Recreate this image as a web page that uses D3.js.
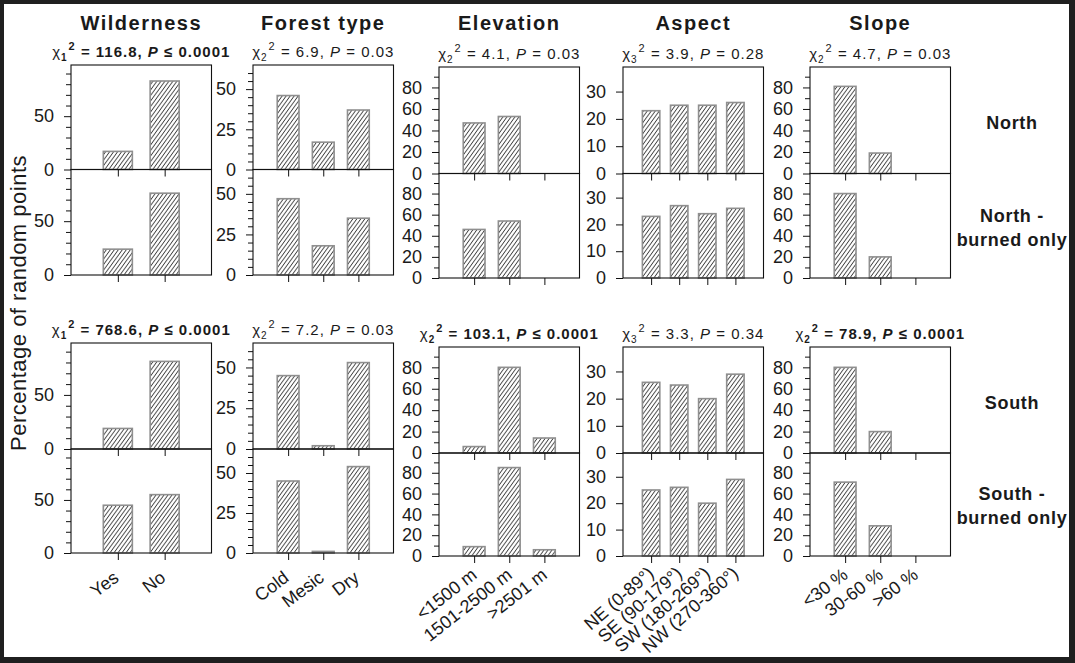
<!DOCTYPE html>
<html><head><meta charset="utf-8">
<script src="https://cdn.jsdelivr.net/npm/d3@7"></script>
<style>
body{margin:0;background:#fff}
svg{display:block}
text{font-family:"Liberation Sans",Arial,sans-serif;fill:#1a1a1a}
</style>
</head><body>
<svg id="c" width="1075" height="663"></svg>
<script>
// ---------- data ----------
const panelTitles = ["Wilderness", "Forest type", "Elevation", "Aspect", "Slope"];
const wildernessCats = ["Yes", "No"];
const forestCats = ["Cold", "Mesic", "Dry"];
const elevationCats = ["<1500 m", "1501-2500 m", ">2501 m"];
const aspectCats = ["NE (0-89°)", "SE (90-179°)", "SW (180-269°)", "NW (270-360°)"];
const slopeCats = ["<30 %", "30-60 %", ">60 %"];
const categories = [wildernessCats, forestCats, elevationCats, aspectCats, slopeCats];

const rowLabels = [["North"], ["North -", "burned only"], ["South"], ["South -", "burned only"]];

// percentage of random points, per panel column
const northValues       = [[17, 83], [46, 17, 37], [47, 53, 0], [23, 25, 25, 26], [81, 19, 0]];
const northBurnedValues = [[24, 76], [47, 18, 35], [46, 54, 0], [23, 27, 24, 26], [80, 20, 0]];
const southValues       = [[19, 81], [45, 2, 53],  [6, 80, 14], [26, 25, 20, 29], [80, 20, 0]];
const southBurnedValues = [[45, 55], [45, 1, 54],  [9, 85, 6],  [25, 26, 20, 29], [71, 29, 0]];
const rowValues = [northValues, northBurnedValues, southValues, southBurnedValues];

// chi-square statistics (North row, South row)
const statDf   = [[1, 2, 2, 3, 2], [1, 2, 2, 3, 2]];
const statChi  = [["116.8", "6.9", "4.1", "3.9", "4.7"], ["768.6", "7.2", "103.1", "3.3", "78.9"]];
const statP    = [["≤ 0.0001", "= 0.03", "= 0.03", "= 0.28", "= 0.03"],
                  ["≤ 0.0001", "= 0.03", "≤ 0.0001", "= 0.34", "≤ 0.0001"]];
const statBold = [[true, false, false, false, false], [true, false, true, false, true]];

// y axis settings per column
const yMax       = [98, 65, 99, 39, 99];
const yLabelTicks = [[0, 50], [0, 25, 50], [0, 20, 40, 60, 80], [0, 10, 20, 30], [0, 20, 40, 60, 80]];
const yMinorTicks = [[10, 20, 30, 40, 60, 70, 80, 90],
                     [5, 10, 15, 20, 30, 35, 40, 45, 55, 60],
                     [10, 30, 50, 70, 90], [], [10, 30, 50, 70, 90]];
const yTitle = "Percentage of random points";

// ---------- layout ----------
const W = 1075, H = 663;
const colX0 = [71, 253, 439, 623, 810];
const colW = 140.5;
const geoLeft  = {tops: [65, 169.5, 343, 449], bottoms: [169.5, 275, 449, 553]};
const geoRight = {tops: [67, 173.5, 347, 453], bottoms: [173.5, 278, 453, 556]};
const labelAngle = [-37, -37, -38, -41, -37];
const labelDx = [2, 2, 4, 4, 4];
const labelDy = [27, 27, 21, 19, 21];

const svg = d3.select("#c");
svg.append("rect").attr("width", W).attr("height", H).attr("fill", "#1f1f1f");
svg.append("rect").attr("x", 4).attr("y", 4).attr("width", W - 10).attr("height", H - 10).attr("fill", "#fff");

const defs = svg.append("defs");
const pat = defs.append("pattern").attr("id", "hatch").attr("patternUnits", "userSpaceOnUse")
  .attr("width", 4).attr("height", 5.5);
pat.append("rect").attr("width", 4).attr("height", 5.5).attr("fill", "#fff");
pat.append("path").attr("d", "M0,5.5 L4,0 M-1,1.375 L1,-1.375 M3,6.875 L5,4.125")
  .attr("stroke", "#000").attr("stroke-width", 0.8);

function drawStat(x, y, df, chi, p, bold) {
  const t = svg.append("text").attr("x", x).attr("y", y).attr("text-anchor", "middle")
    .style("font-size", "15px").style("letter-spacing", "1px")
    .style("font-weight", bold ? "bold" : "normal");
  t.append("tspan").text("χ").style("font-weight", "normal");
  t.append("tspan").text(df).attr("dy", 4).style("font-size", "10px");
  t.append("tspan").text("2").attr("dy", -11).attr("dx", 1).style("font-size", "11px");
  t.append("tspan").text(" = " + chi + ", ").attr("dy", 7);
  t.append("tspan").text("P").style("font-style", "italic");
  t.append("tspan").text(" " + p);
}

for (let c = 0; c < 5; c++) {
  const x0 = colX0[c], x1 = x0 + colW, cx = (x0 + x1) / 2;
  const geo = c < 2 ? geoLeft : geoRight;
  const xs = d3.scalePoint().domain(categories[c]).range([x0, x1]).padding(1);
  const bw = xs.step() * 0.62;

  svg.append("text").attr("x", cx).attr("y", 30).attr("text-anchor", "middle")
    .style("font-size", "20px").style("font-weight", "bold").style("letter-spacing", "1.5px")
    .text(panelTitles[c]);

  drawStat(cx, geo.tops[0] - 8, statDf[0][c], statChi[0][c], statP[0][c], statBold[0][c]);
  drawStat(cx, geo.tops[2] - 8, statDf[1][c], statChi[1][c], statP[1][c], statBold[1][c]);

  for (let r = 0; r < 4; r++) {
    const top = geo.tops[r], bottom = geo.bottoms[r];
    const y = d3.scaleLinear().domain([0, yMax[c]]).range([bottom, top]);
    const vals = rowValues[r][c];
    const g = svg.append("g");

    g.selectAll("rect.bar").data(categories[c]).join("rect").attr("class", "bar")
      .attr("x", d => xs(d) - bw / 2)
      .attr("y", (d, i) => y(vals[i]))
      .attr("width", bw)
      .attr("height", (d, i) => y(0) - y(vals[i]))
      .attr("fill", "url(#hatch)")
      .attr("stroke", "#8f8f8f").attr("stroke-width", 1.6)
      .style("display", (d, i) => vals[i] > 0 ? null : "none");

    g.append("rect").attr("x", x0).attr("y", top).attr("width", colW).attr("height", bottom - top)
      .attr("fill", "none").attr("stroke", "#111").attr("stroke-width", 1.1);

    const ax = g.append("g").attr("transform", `translate(${x0},0)`)
      .call(d3.axisLeft(y).tickValues(yLabelTicks[c]).tickSize(7).tickPadding(10).tickFormat(d3.format("d")));
    ax.select(".domain").remove();
    ax.selectAll("text").style("font-size", "18px").attr("fill", "#1a1a1a").style("font-family", "Liberation Sans, Arial, sans-serif");
    ax.selectAll("line").attr("stroke", "#111");

    const mx = g.append("g").attr("transform", `translate(${x0},0)`)
      .call(d3.axisLeft(y).tickValues(yMinorTicks[c]).tickSize(5).tickFormat(""));
    mx.select(".domain").remove();
    mx.selectAll("line").attr("stroke", "#111");

    const bx = g.append("g").attr("transform", `translate(0,${bottom})`)
      .call(d3.axisBottom(xs).tickSize(7).tickFormat(""));
    bx.select(".domain").remove();
    bx.selectAll("line").attr("stroke", "#111");

    if (r === 3) {
      g.selectAll("text.xl").data(categories[c]).join("text").attr("class", "xl")
        .attr("transform", d => `translate(${xs(d) + labelDx[c]},${bottom + labelDy[c]}) rotate(${labelAngle[c]})`)
        .attr("text-anchor", "end")
        .style("font-size", "18px")
        .text(d => d);
    }
  }
}

// row labels
const rowCenters = [[129], [222, 246], [409], [500, 524]];
rowLabels.forEach((lines, r) => {
  lines.forEach((s, k) => {
    svg.append("text").attr("x", 1012).attr("y", rowCenters[r][k]).attr("text-anchor", "middle")
      .style("font-size", "18px").style("font-weight", "bold").style("letter-spacing", "0.7px").text(s);
  });
});

// y axis title
svg.append("text").attr("transform", "translate(26,303) rotate(-90)").attr("text-anchor", "middle")
  .style("font-size", "22px").style("letter-spacing", "0.5px").text(yTitle);
</script>
</body></html>
